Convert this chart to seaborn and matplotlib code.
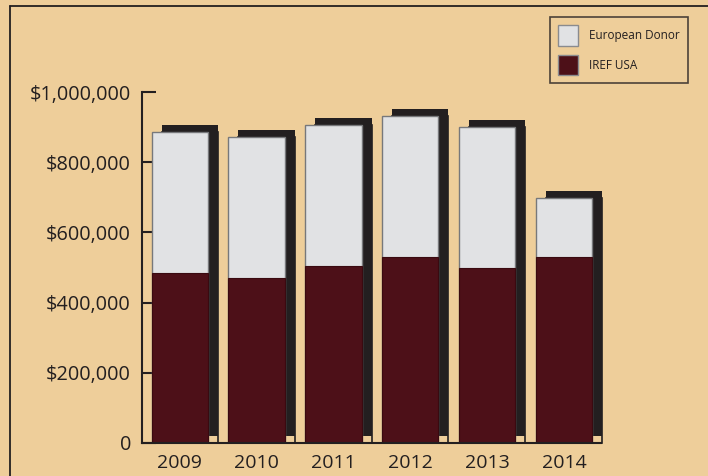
import numpy as np
import pandas as pd
import matplotlib
matplotlib.use("Agg")
import matplotlib.pyplot as plt
import matplotlib.transforms as mtransforms
from matplotlib.patches import Patch
from matplotlib.lines import Line2D
import seaborn as sns

# data
years = ["2009", "2010", "2011", "2012", "2013", "2014"]
iref_usa = [484000, 470000, 504000, 530000, 499000, 530000]
european = [402000, 402000, 402000, 402000, 401000, 168000]

total = [a + b for a, b in zip(iref_usa, european)]
df = pd.DataFrame({"year": years, "iref": iref_usa, "total": total})

BG = "#EECE9A"
RED = "#4D1018"
GREY = "#E1E2E4"
DARK = "#231F20"

sns.set_style("white")
plt.rcParams["font.family"] = ["Open Sans", "DejaVu Sans"]

fig = plt.figure(figsize=(7.08, 4.76), dpi=100, facecolor=BG)
ax = fig.add_axes([142 / 708, 1 - 443 / 476, 459 / 708, 351 / 476])
ax.set_facecolor(BG)

W = 0.73
# shadow outline (sits on the axis) and the filled shadow shifted up
sns.barplot(data=df, x="year", y="total", color=BG, width=W, ax=ax,
            saturation=1, edgecolor=DARK, linewidth=1.2)
n0 = len(ax.patches)
sns.barplot(data=df, x="year", y="total", color=DARK, width=W, ax=ax,
            saturation=1, linewidth=0)
shift_out = mtransforms.ScaledTranslation(0.10, 0.0, fig.dpi_scale_trans)
shift_up = mtransforms.ScaledTranslation(0.10, 0.07, fig.dpi_scale_trans)
for i, p in enumerate(ax.patches):
    p.set_transform(ax.transData + (shift_out if i < n0 else shift_up))
    p.set_clip_on(False)

# front stacked bars
sns.barplot(data=df, x="year", y="total", color=GREY, width=W, ax=ax,
            saturation=1, edgecolor="#77787B", linewidth=1.0)
sns.barplot(data=df, x="year", y="iref", color=RED, width=W, ax=ax,
            saturation=1, edgecolor="#3A0A10", linewidth=0.8)

ax.set_xlim(-0.49, 5.48)
ax.set_ylim(0, 1000000)
ax.set_yticks([0, 200000, 400000, 600000, 800000, 1000000])
ax.set_yticklabels(["0", "$200,000", "$400,000", "$600,000", "$800,000", "$1,000,000"])
ax.set_xlabel("")
ax.set_ylabel("")
sns.despine(ax=ax)
for s in ["left", "bottom"]:
    ax.spines[s].set_color(DARK)
    ax.spines[s].set_linewidth(1.5)
ax.tick_params(axis="y", direction="in", length=10, width=1.5, color=DARK,
               labelsize=14.3, labelcolor=DARK, pad=8, left=True)
ax.tick_params(axis="x", length=0, labelsize=14, labelcolor=DARK, pad=8)

# page frame lines
fig.add_artist(Line2D([10 / 708, 1], [1 - 6 / 476] * 2, color=DARK, lw=1.3))
fig.add_artist(Line2D([10 / 708] * 2, [0, 1 - 6 / 476], color=DARK, lw=1.3))

handles = [Patch(facecolor=GREY, edgecolor="#8A8B8E", label="European Donor"),
           Patch(facecolor=RED, edgecolor="#8A8B8E", label="IREF USA")]
leg = fig.legend(handles=handles, loc="upper left",
                 bbox_to_anchor=(550 / 708, 1 - 17 / 476),
                 frameon=True, fancybox=False, fontsize=8.5,
                 handlelength=1.7, handleheight=2.3, labelspacing=0.75,
                 borderpad=0.7, handletextpad=0.9, borderaxespad=0)
leg.get_frame().set_facecolor("none")
leg.get_frame().set_edgecolor(DARK)
leg.get_frame().set_linewidth(1.2)
for t in leg.get_texts():
    t.set_color(DARK)

fig.savefig("out.png", dpi=100, facecolor=BG)
